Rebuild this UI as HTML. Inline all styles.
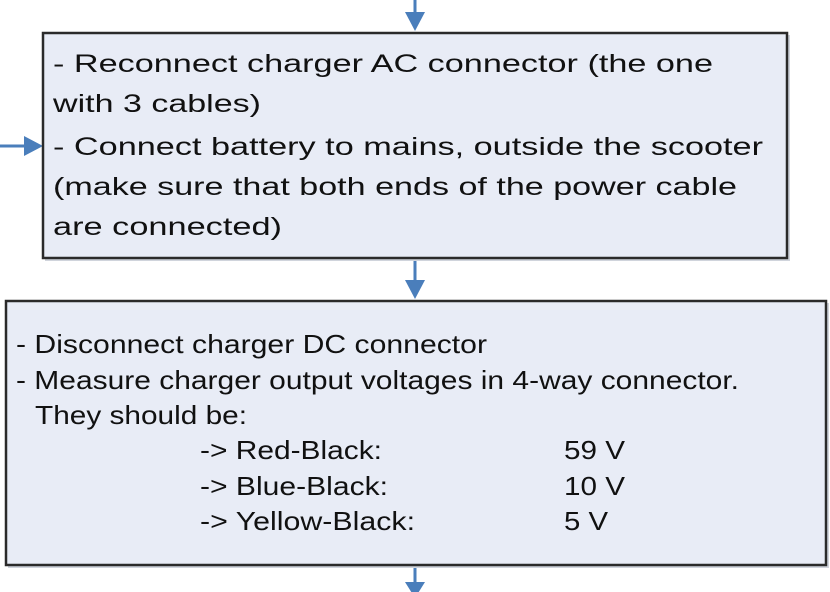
<!DOCTYPE html>
<html><head><meta charset="utf-8"><style>
html,body{margin:0;padding:0;background:#fff;}
svg{display:block;}
text{font-family:"Liberation Sans",sans-serif;fill:#111;}
</style></head><body>
<svg width="830" height="592" viewBox="0 0 830 592" xmlns="http://www.w3.org/2000/svg">
<g fill="#4a7ebb" stroke="#4a7ebb">
<line x1="415" y1="0" x2="415" y2="14" stroke-width="3"/>
<polygon points="405,12 425,12 415,31" stroke="none"/>
<line x1="0" y1="146" x2="26" y2="146" stroke-width="3"/>
<polygon points="24,136 24,156 43,146" stroke="none"/>
<line x1="415" y1="258" x2="415" y2="282" stroke-width="3"/>
<polygon points="405,280 425,280 415,299" stroke="none"/>
<line x1="415" y1="565" x2="415" y2="592" stroke-width="3"/>
<polygon points="405,582 425,582 415,598" stroke="none"/>
</g>
<rect x="45" y="35" width="745" height="226" fill="#d0d4dc"/>
<rect x="43" y="33" width="744" height="225" fill="#e8ecf6" stroke="#2a2a2a" stroke-width="2.5"/>
<rect x="8" y="303" width="821" height="265" fill="#d0d4dc"/>
<rect x="6" y="301" width="820" height="264" fill="#e8ecf6" stroke="#2a2a2a" stroke-width="2.5"/>
<g font-size="25">
<text x="53" y="72" textLength="660" lengthAdjust="spacingAndGlyphs">- Reconnect charger AC connector (the one</text>
<text x="53" y="112" textLength="208" lengthAdjust="spacingAndGlyphs">with 3 cables)</text>
<text x="53" y="155" textLength="710" lengthAdjust="spacingAndGlyphs">- Connect battery to mains, outside the scooter</text>
<text x="53" y="195" textLength="684" lengthAdjust="spacingAndGlyphs">(make sure that both ends of the power cable</text>
<text x="53" y="235" textLength="229" lengthAdjust="spacingAndGlyphs">are connected)</text>
</g>
<g font-size="26">
<text x="16" y="353" textLength="471" lengthAdjust="spacingAndGlyphs">- Disconnect charger DC connector</text>
<text x="16" y="389" textLength="723" lengthAdjust="spacingAndGlyphs">- Measure charger output voltages in 4-way connector.</text>
<text x="35" y="424" textLength="212" lengthAdjust="spacingAndGlyphs">They should be:</text>
<text x="200" y="459" textLength="182" lengthAdjust="spacingAndGlyphs">-&gt; Red-Black:</text>
<text x="200" y="495" textLength="188" lengthAdjust="spacingAndGlyphs">-&gt; Blue-Black:</text>
<text x="200" y="530" textLength="215" lengthAdjust="spacingAndGlyphs">-&gt; Yellow-Black:</text>
<text x="564" y="459" textLength="61" lengthAdjust="spacingAndGlyphs">59 V</text>
<text x="564" y="495" textLength="61" lengthAdjust="spacingAndGlyphs">10 V</text>
<text x="564" y="530" textLength="44" lengthAdjust="spacingAndGlyphs">5 V</text>
</g>
</svg>
</body></html>
